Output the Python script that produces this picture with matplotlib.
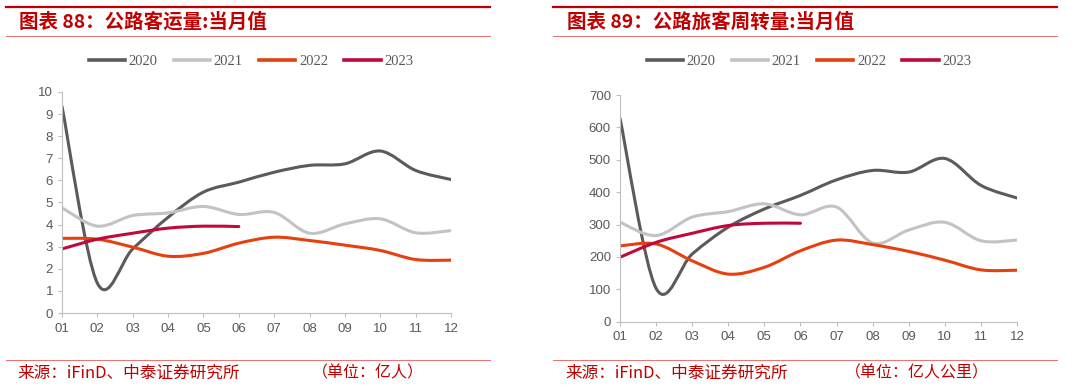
import numpy as np
import matplotlib
matplotlib.use("Agg")
import matplotlib.pyplot as plt
from matplotlib.path import Path
from matplotlib.patches import PathPatch
from matplotlib.lines import Line2D

months = ["01", "02", "03", "04", "05", "06", "07", "08", "09", "10", "11", "12"]
years = ["2020", "2021", "2022", "2023"]

# 公路客运量 (亿人)
vol_2020 = [9.35, 1.35, 2.9, 4.33, 5.47, 5.92, 6.37, 6.68, 6.75, 7.33, 6.45, 6.04]
vol_2021 = [4.76, 3.93, 4.41, 4.53, 4.82, 4.46, 4.55, 3.61, 4.03, 4.26, 3.63, 3.73]
vol_2022 = [3.38, 3.34, 2.98, 2.57, 2.70, 3.16, 3.43, 3.28, 3.07, 2.83, 2.42, 2.39]
vol_2023 = [2.90, 3.34, 3.61, 3.84, 3.93, 3.91]

# 公路旅客周转量 (亿人公里)
pkm_2020 = [628, 103, 209, 292, 348, 390, 438, 467, 462, 504, 421, 382]
pkm_2021 = [307, 266, 323, 340, 364, 330, 354, 243, 283, 307, 250, 252]
pkm_2022 = [234, 240, 188, 147, 168, 219, 252, 238, 217, 190, 160, 159]
pkm_2023 = [199, 245, 273, 297, 304, 304]

colors = ["#5f5959", "#c3c3c3", "#e5400e", "#c0083c"]
RED = "#c00000"
CJK = ["Noto Sans CJK SC", "DejaVu Sans"]


def smooth_path(xs, ys):
    pts = np.column_stack([xs, ys]).astype(float)
    n = len(pts)
    verts = [pts[0]]
    codes = [Path.MOVETO]
    for i in range(n - 1):
        p0 = pts[i - 1] if i > 0 else pts[i]
        p1 = pts[i]
        p2 = pts[i + 1]
        p3 = pts[i + 2] if i + 2 < n else pts[i + 1]
        c1 = p1 + (p2 - p0) / 6.0
        c2 = p2 - (p3 - p1) / 6.0
        verts += [c1, c2, p2]
        codes += [Path.CURVE4] * 3
    return Path(verts, codes)


fig = plt.figure(figsize=(10.78, 3.87), dpi=100)


def panel(rect, series, ylim, yticks, title, unit, x_line, title_x, unit_x, leg_cx):
    ax = fig.add_axes(rect)
    x = np.arange(len(months))
    for vals, c in zip(series, colors):
        xs = x[: len(vals)]
        p = smooth_path(xs, vals)
        ax.add_patch(PathPatch(p, facecolor="none", edgecolor=c, lw=2.2,
                               capstyle="round", joinstyle="round"))
    ax.set_xlim(0, len(months) - 1)
    ax.set_ylim(*ylim)
    ax.set_xticks(x)
    ax.set_xticklabels(months)
    ax.set_yticks(yticks)
    for s in ["top", "right"]:
        ax.spines[s].set_visible(False)
    for s in ["left", "bottom"]:
        ax.spines[s].set_color("#bfbfbf")
        ax.spines[s].set_linewidth(0.8)
    ax.tick_params(axis="both", colors="#bfbfbf", length=3, width=0.8,
                   labelcolor="#595959", labelsize=9.5)
    ax.tick_params(axis="x", pad=4)
    for lab in ax.get_xticklabels() + ax.get_yticklabels():
        lab.set_fontfamily("Liberation Sans")
    ax.set_facecolor("none")

    # header and footer decorations
    fig.add_artist(Line2D([x_line[0], x_line[1]], [1 - 6.5 / 387, 1 - 6.5 / 387],
                          transform=fig.transFigure, color=RED, lw=1.6))
    fig.add_artist(Line2D([x_line[0], x_line[1]], [1 - 36 / 387, 1 - 36 / 387],
                          transform=fig.transFigure, color="#e87070", lw=0.7))
    fig.add_artist(Line2D([x_line[0], x_line[1]], [1 - 360 / 387, 1 - 360 / 387],
                          transform=fig.transFigure, color="#e87070", lw=0.7))
    fig.text(title_x, 1 - 22 / 387, title, family=CJK, weight="bold",
             style="italic", color=RED, fontsize=14, va="center", ha="left")
    fig.text(title_x - 2 / 1078, 1 - 373 / 387, "来源：iFinD、中泰证券研究所",
             family=CJK, color=RED, fontsize=12, va="center", ha="left")
    fig.text(unit_x, 1 - 373 / 387, unit, family=CJK, color=RED,
             fontsize=11.5, va="center", ha="left")

    handles = [Line2D([], [], color=c, lw=2.6) for c in colors]
    fig.legend(handles, years, loc="center", ncol=4,
               bbox_to_anchor=(leg_cx, 1 - 61 / 387), frameon=False,
               prop={"family": "Liberation Serif", "size": 10.5},
               labelcolor="#595959", handlelength=2.5, handletextpad=0.25,
               columnspacing=1.1)
    return ax


panel([62 / 1078, 1 - 313 / 387, (451 - 62) / 1078, (313 - 92) / 387],
      [vol_2020, vol_2021, vol_2022, vol_2023], (0, 10), range(0, 11),
      "图表 88：公路客运量:当月值", "（单位：亿人）",
      (6 / 1078, 490 / 1078), 19 / 1078, 312 / 1078, 251 / 1078)

panel([620 / 1078, 1 - 321.7 / 387, (1017 - 620) / 1078, (321.7 - 95) / 387],
      [pkm_2020, pkm_2021, pkm_2022, pkm_2023], (0, 700), range(0, 701, 100),
      "图表 89：公路旅客周转量:当月值", "（单位：亿人公里）",
      (553 / 1078, 1057 / 1078), 567 / 1078, 845 / 1078, 809 / 1078)

fig.savefig("out.png", dpi=100, facecolor="white")
